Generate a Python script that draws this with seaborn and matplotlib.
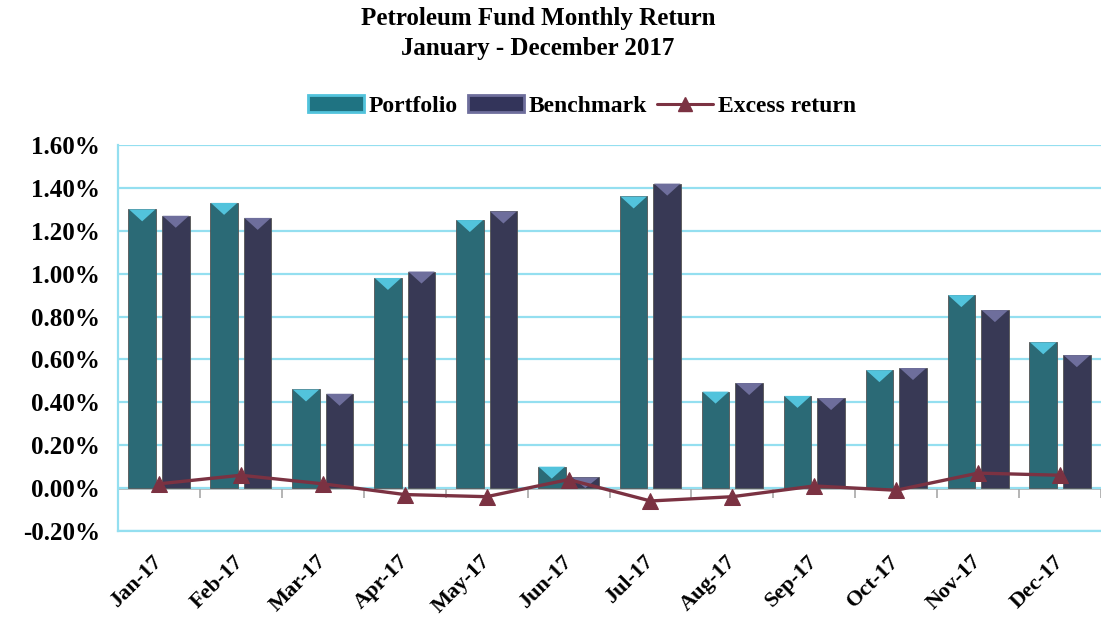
import numpy as np
import pandas as pd
import matplotlib
matplotlib.use("Agg")
import matplotlib.pyplot as plt
import seaborn as sns
from matplotlib.patches import Patch, Polygon
from matplotlib.lines import Line2D
from matplotlib.ticker import FuncFormatter

months = ["Jan-17", "Feb-17", "Mar-17", "Apr-17", "May-17", "Jun-17",
          "Jul-17", "Aug-17", "Sep-17", "Oct-17", "Nov-17", "Dec-17"]
portfolio = [1.30, 1.33, 0.46, 0.98, 1.25, 0.10, 1.36, 0.45, 0.43, 0.55, 0.90, 0.68]
benchmark = [1.27, 1.26, 0.44, 1.01, 1.29, 0.05, 1.42, 0.49, 0.42, 0.56, 0.83, 0.62]
excess = [0.02, 0.06, 0.02, -0.03, -0.04, 0.04, -0.06, -0.04, 0.01, -0.01, 0.07, 0.06]
series = ["Portfolio", "Benchmark"]

body = {"Portfolio": "#1f7382", "Benchmark": "#33345a"}
bevel = {"Portfolio": "#52c3dc", "Benchmark": "#6e6e9c"}
line_col = "#7b3242"
grid_col = "#94dff0"

sns.set_theme(style="white")
plt.rcParams["font.family"] = ["Liberation Serif", "DejaVu Serif"]
plt.rcParams["font.weight"] = "bold"
plt.rcParams["text.color"] = "black"

df = pd.DataFrame({
    "month": months * 2,
    "value": portfolio + benchmark,
    "series": ["Portfolio"] * 12 + ["Benchmark"] * 12,
})

fig = plt.figure(figsize=(11.01, 6.28), dpi=100)
ax = fig.add_axes([118 / 1101, 1 - 531 / 628, 1 - 118 / 1101, (531 - 145) / 628])

sns.barplot(data=df, x="month", y="value", hue="series", hue_order=series,
            palette=body, width=0.82, gap=0.18, edgecolor="#555555", linewidth=0.6,
            legend=False, ax=ax, zorder=2)
sns.lineplot(x=months, y=excess, color=line_col, marker="^", markersize=12,
             markeredgecolor=line_col, linewidth=2.4, sort=False, ax=ax, zorder=4)

ax.set_ylim(-0.2, 1.6)
ax.set_xlim(-0.5, 11.5)

# bevel triangles on bar tops
fig.canvas.draw()
px_per_unit = ax.transData.transform((0, 1))[1] - ax.transData.transform((0, 0))[1]
depth = 12 / px_per_unit
for i, bar in enumerate(ax.patches[:24]):
    name = series[i // 12]
    x0, w = bar.get_x(), bar.get_width()
    top = bar.get_height()
    if top <= 0:
        continue
    d = min(depth, top)
    tri = Polygon([(x0 + 0.02 * w, top), (x0 + 0.98 * w, top), (x0 + w / 2, top - d)],
                  closed=True, facecolor=bevel[name], edgecolor="none", zorder=3)
    ax.add_patch(tri)

ax.set_yticks(np.arange(-0.2, 1.61, 0.2))
ax.yaxis.set_major_formatter(FuncFormatter(lambda v, p: f"{v:.2f}%"))
ax.grid(axis="y", color=grid_col, linewidth=1.6)
ax.set_axisbelow(True)
ax.tick_params(axis="y", length=8, width=1.4, color=grid_col, labelcolor="black",
               labelsize=18, pad=5)
ax.tick_params(axis="x", length=0, labelsize=16, labelcolor="black", pad=20)
for lab in ax.get_xticklabels():
    lab.set_rotation(45)
    lab.set_ha("right")
    lab.set_va("center")
    lab.set_rotation_mode("anchor")
    lab.set_fontweight("bold")
for lab in ax.get_yticklabels():
    lab.set_fontweight("bold")
ax.set_xlabel("")
ax.set_ylabel("")
for s in ["top", "right"]:
    ax.spines[s].set_visible(False)
ax.spines["left"].set_color(grid_col)
ax.spines["left"].set_linewidth(1.6)
ax.spines["bottom"].set_color(grid_col)
ax.spines["bottom"].set_linewidth(1.6)

# zero axis with category boundary ticks
sec = ax.secondary_xaxis(0.2 / 1.8)
sec.set_xticks(np.arange(-0.5, 12, 1))
sec.tick_params(length=7, width=1.2, color="#a8a8a8", labelbottom=False)
sec.spines["bottom"].set_color("#a8a8a8")
sec.spines["bottom"].set_linewidth(1.8)

fig.text(538 / 1101, 1 - 19 / 628, "Petroleum Fund Monthly Return", ha="center", va="center",
         fontsize=18, fontweight="bold")
fig.text(538 / 1101, 1 - 49 / 628, "January - December 2017", ha="center", va="center",
         fontsize=18, fontweight="bold")

handles = [
    Patch(facecolor=body["Portfolio"], edgecolor=bevel["Portfolio"], linewidth=2),
    Patch(facecolor=body["Benchmark"], edgecolor=bevel["Benchmark"], linewidth=2),
    Line2D([0], [0], color=line_col, marker="^", markersize=10, linewidth=2.2),
]
fig.legend(handles, ["Portfolio", "Benchmark", "Excess return"], loc="center",
           bbox_to_anchor=(582 / 1101, 1 - 106 / 628), ncol=3, frameon=False,
           handlelength=2.4, handleheight=0.7, handletextpad=0.2, columnspacing=0.4,
           prop={"size": 17, "weight": "bold"})

fig.savefig("out.png", dpi=100)
